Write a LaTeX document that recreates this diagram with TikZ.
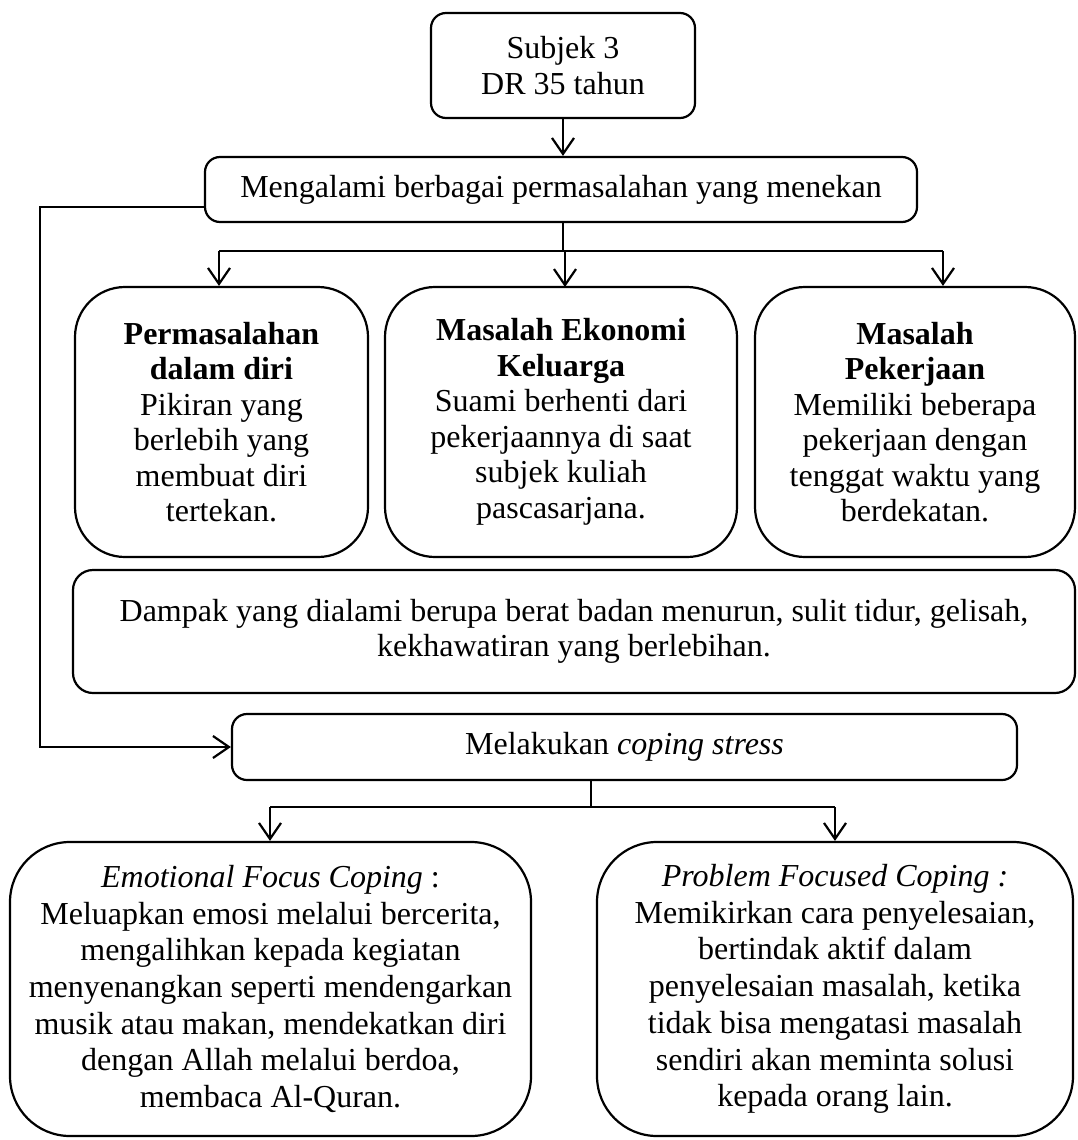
\documentclass[tikz,border=0pt]{standalone}
\usepackage{fontspec}
\setmainfont{Liberation Serif}
\usetikzlibrary{arrows.meta}
\begin{document}
\begin{tikzpicture}[x=1pt,y=-1pt,
  every node/.style={font=\fontsize{32}{35.5}\selectfont},
  box/.style={draw, line width=2.2pt, align=center, inner sep=0pt, rounded corners=#1},
  box/.default=15pt,
  widebox/.style={font=\fontsize{32}{36.7}\selectfont},
  conn/.style={line width=2.2pt},
  arr/.style={conn, -{Straight Barb[length=16pt,width=22pt,line width=2.2pt]}}]
\useasboundingbox (0,0) rectangle (1077,1140);
\node[box, minimum width=264pt, minimum height=105pt] (s) at (563,65.5) {Subjek 3\\DR 35 tahun};
\node[box, minimum width=712pt, minimum height=65pt] (m) at (561,189.5) {Mengalami berbagai permasalahan yang menekan};
\node[box=50pt, minimum width=293pt, minimum height=270pt] (a) at (221.5,422)
  {\textbf{Permasalahan}\\\textbf{dalam diri}\\Pikiran yang\\berlebih yang\\membuat diri\\tertekan.};
\node[box=50pt, minimum width=352pt, minimum height=270pt] (b) at (561,422)
  {\textbf{Masalah Ekonomi}\\\textbf{Keluarga}\\Suami berhenti dari\\pekerjaannya di saat\\subjek kuliah\\pascasarjana.};
\node[box=50pt, minimum width=320pt, minimum height=270pt] (c) at (915,422)
  {\textbf{Masalah}\\\textbf{Pekerjaan}\\Memiliki beberapa\\pekerjaan dengan\\tenggat waktu yang\\berdekatan.};
\node[box=20pt, minimum width=1002pt, minimum height=123pt] (d) at (574,631.5)
  {Dampak yang dialami berupa berat badan menurun, sulit tidur, gelisah,\\kekhawatiran yang berlebihan.};
\node[box, minimum width=785pt, minimum height=66pt] (k) at (624.5,747) {Melakukan \textit{coping stress}};
\node[box=60pt, widebox, minimum width=521pt, minimum height=294pt] (e) at (270.5,989)
  {\textit{Emotional Focus Coping} :\\Meluapkan emosi melalui bercerita,\\mengalihkan kepada kegiatan\\menyenangkan seperti mendengarkan\\musik atau makan, mendekatkan diri\\dengan Allah melalui berdoa,\\membaca Al-Quran.};
\node[box=60pt, widebox, minimum width=476pt, minimum height=294pt] (p) at (835,989)
  {\textit{Problem Focused Coping :}\\Memikirkan cara penyelesaian,\\bertindak aktif dalam\\penyelesaian masalah, ketika\\tidak bisa mengatasi masalah\\sendiri akan meminta solusi\\kepada orang lain.};
% connectors
\draw[arr] (s.south) -- (s.south |- m.north);
\coordinate (j1) at (563,251);
\coordinate (ja) at (219,251);
\coordinate (jc) at (943,251);
\draw[conn] (m.south -| j1) -- (j1);
\draw[conn] (ja) -- (jc);
\draw[arr] (ja) -- (ja |- a.north);
\draw[arr] (565,251) -- (565,287);
\draw[arr] (jc) -- (jc |- c.north);
\coordinate (l1) at (40,207);
\draw[arr] (m.west |- l1) -- (l1) -- (l1 |- k.west) -- (k.west);
\coordinate (j2) at (591,807);
\coordinate (je) at (270,807);
\coordinate (jp) at (835,807);
\draw[conn] (k.south -| j2) -- (j2);
\draw[conn] (je) -- (jp);
\draw[arr] (je) -- (je |- e.north);
\draw[arr] (jp) -- (jp |- p.north);
\end{tikzpicture}
\end{document}
